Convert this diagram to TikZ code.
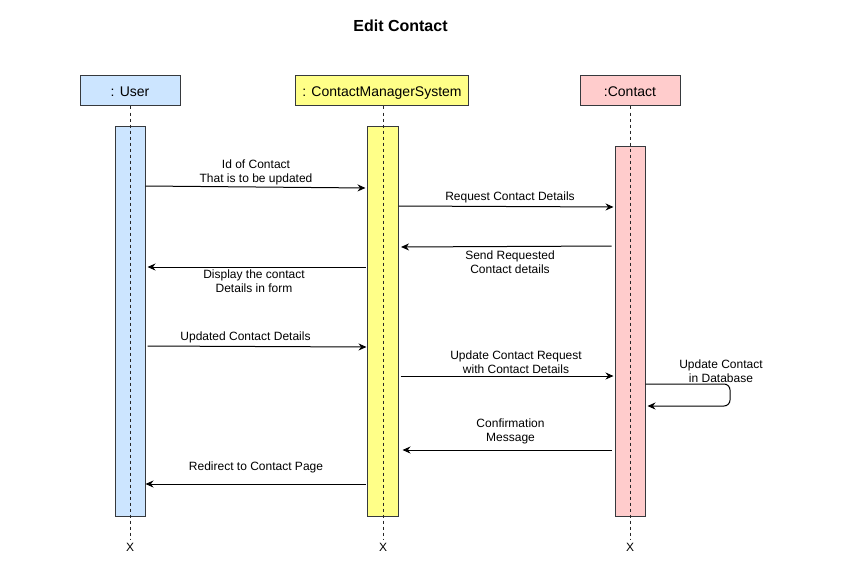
\documentclass[tikz,border=0pt]{standalone}
\usepackage{fontspec}
\setmainfont{Liberation Sans}
\usepackage{xcolor}
\usetikzlibrary{arrows.meta,positioning,calc}
\definecolor{userblue}{HTML}{CCE5FF}
\definecolor{sysyellow}{HTML}{FFFF88}
\definecolor{contpink}{HTML}{FFCCCC}
\definecolor{edgegray}{HTML}{36393D}

\tikzset{
  head/.style={draw=edgegray,line width=1pt,minimum height=30pt,inner sep=0pt,
               text height=11.5pt,text depth=0pt,font=\fontsize{14}{16}\selectfont},
  bar/.style={draw=edgegray,line width=1pt,minimum width=30pt,inner sep=0pt},
  life/.style={line width=1pt,dash pattern=on 3pt off 3pt,black!85},
  msg/.style={-{Stealth[length=8pt,width=7pt]},line width=1pt,black},
  lbl/.style={font=\fontsize{12}{14}\selectfont,align=center,inner sep=0pt},
}

\begin{document}
\begin{tikzpicture}[x=1pt,y=-1pt]
\useasboundingbox (0,0) rectangle (850,575);
\node[font=\bfseries\fontsize{16}{19}\selectfont,inner sep=0pt] (title) at (400.5,26) {Edit Contact};
% heads
\node[head,fill=userblue,minimum width=100pt] (user) at (130,91) {: User};
\node[head,fill=sysyellow,minimum width=173pt] (sys) at (382,91) {: ContactManagerSystem};
\node[head,fill=contpink,minimum width=100pt] (cont) at (630,91) {:Contact};
% activations
\node[bar,fill=userblue,minimum height=390pt] (actU) at (130,321) {};
\node[bar,fill=sysyellow,minimum height=390pt,minimum width=31pt] (actS) at (382.5,321) {};
\node[bar,fill=contpink,minimum height=370pt] (actC) at (630,331) {};
% ends and lifelines
\node[lbl] (xU) at (130,547) {X};
\node[lbl] (xS) at (383,547) {X};
\node[lbl] (xC) at (630,547) {X};
\draw[life] (user.south) -- ([yshift=3pt]xU.north);
\draw[life] (sys.south -| xS) -- ([yshift=3pt]xS.north);
\draw[life] (cont.south) -- ([yshift=3pt]xC.north);
% messages
\draw[msg,shorten >=1pt] (actU.east |- 0,186) -- (actS.west |- 0,188);
\node[lbl] (l1) at (256,172) {Id of Contact\\That is to be updated};
\draw[msg,shorten >=1pt] (actS.east |- 0,206) -- (actC.west |- 0,207);
\node[lbl] (l2) at (510,197) {Request Contact Details};
\draw[msg,shorten >=2.5pt,shorten <=3pt] (actC.west |- 0,246) -- (actS.east |- 0,247);
\node[lbl] (l3) at (510,262) {Send Requested\\Contact details};
\draw[msg,shorten >=2pt,shorten <=1pt] (actS.west |- 0,267) -- (actU.east |- 0,267);
\node[lbl] (l4) at (254,281) {Display the contact\\Details in form};
\draw[msg,shorten <=2pt] (actU.east |- 0,346) -- (actS.west |- 0,347);
\node[lbl] (l5) at (245.5,337) {Updated Contact Details};
\draw[msg,shorten <=2pt,shorten >=1pt] (actS.east |- 0,376) -- (actC.west |- 0,376);
\node[lbl] (l6) at (516,362) {Update Contact Request\\with Contact Details};
\draw[msg,rounded corners=6pt,shorten >=2pt] (actC.east |- 0,384) -- (730,384) -- (730,406) -- (actC.east |- 0,406);
\node[lbl] (l7) at (721,371) {Update Contact\\in Database};
\draw[msg,shorten >=4pt,shorten <=3pt] (actC.west |- 0,450) -- (actS.east |- 0,450);
\node[lbl] (l8) at (510.5,431) {Confirmation\\Message};
\draw[msg,shorten <=1pt] (actS.west |- 0,484) -- (actU.east |- 0,484);
\node[lbl] (l9) at (256,467) {Redirect to Contact Page};
\end{tikzpicture}
\end{document}
